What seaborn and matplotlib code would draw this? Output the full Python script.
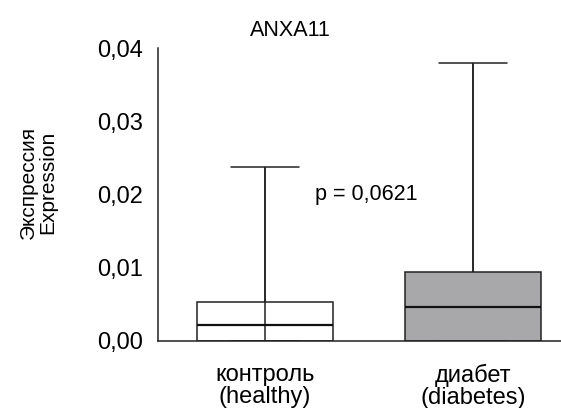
import pandas as pd
import matplotlib
matplotlib.use("Agg")
import matplotlib.pyplot as plt
import seaborn as sns

# five-number summaries: min, q1, median, q3, max
groups = ["контроль\n(healthy)", "диабет\n(diabetes)"]
control = [0.0, 0.0, 0.0022, 0.0053, 0.0238]
diabetes = [0.0, 0.0, 0.00465, 0.00936, 0.0380]
box_colors = ["white", "#a7a8ac"]

yticks = [0.0, 0.01, 0.02, 0.03, 0.04]
ytick_labels = ["0,00", "0,01", "0,02", "0,03", "0,04"]
title = "ANXA11"
ylabel = "Экспрессия\nExpression"
p_text = "p = 0,0621"

df = pd.DataFrame({
    "group": [groups[0]] * len(control) + [groups[1]] * len(diabetes),
    "value": control + diabetes,
})

sns.set_style("white")
font = ["Liberation Sans", "DejaVu Sans"]
plt.rcParams["font.family"] = font
plt.rcParams["text.color"] = "black"
plt.rcParams["xtick.color"] = "black"
plt.rcParams["ytick.color"] = "black"
plt.rcParams["axes.labelcolor"] = "black"

fig = plt.figure(figsize=(5.61, 4.08), dpi=100)
ax = fig.add_axes([158 / 561, 1 - 340.7 / 408, 403 / 561, (340.7 - 48.3) / 408])

# full-length whisker lines (visible through the open control box)
for i, vals in enumerate([control, diabetes]):
    ax.vlines(i, min(vals), max(vals), color="#222222", lw=1.1, zorder=1)

sns.boxplot(data=df, x="group", y="value", hue="group", palette=box_colors,
            order=groups, width=0.654, whis=(0, 100), legend=False, ax=ax,
            linecolor="#222222", linewidth=1.1,
            medianprops={"linewidth": 1.6, "color": "#111111"})

ax.patches[0].set_facecolor("none")
for p in ax.patches:
    p.set_zorder(2)

ax.set_xlim(-0.514, 1.423)
ax.set_ylim(0, 0.04)
ax.set_yticks(yticks)
ax.set_yticklabels(ytick_labels, fontsize=17)
ax.set_xticks([0, 1])
ax.set_xticklabels(groups, fontsize=17, linespacing=1.0)
ax.tick_params(axis="both", length=0)
ax.tick_params(axis="y", pad=11)
ax.tick_params(axis="x", pad=17)
ax.set_xlabel("")
ax.set_ylabel(ylabel, fontsize=15, linespacing=1.0)
ax.yaxis.set_label_coords(-0.25, 0.54)

for s in ["top", "right"]:
    ax.spines[s].set_visible(False)
for s in ["left", "bottom"]:
    ax.spines[s].set_color("#222222")
    ax.spines[s].set_linewidth(1.1)

ax.set_title(title, x=0.328, pad=9, fontsize=15.5)
ax.text(0.24, 0.0192, p_text, fontsize=15.5, va="baseline")

fig.savefig("out.png", dpi=100)
